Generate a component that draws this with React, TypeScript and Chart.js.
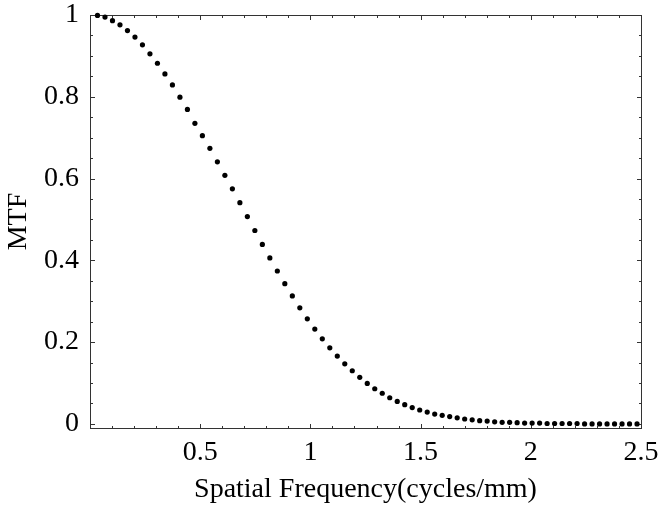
import React, { useEffect, useRef } from "react";
import { Chart, registerables } from "chart.js";

Chart.register(...registerables);

const frequencies = [
  0.034, 0.068, 0.102, 0.136, 0.17, 0.204, 0.238, 0.272, 0.306, 0.34,
  0.374, 0.408, 0.442, 0.476, 0.51, 0.544, 0.578, 0.612, 0.646, 0.68,
  0.714, 0.748, 0.782, 0.816, 0.85, 0.884, 0.918, 0.952, 0.986, 1.02,
  1.054, 1.088, 1.122, 1.156, 1.19, 1.224, 1.258, 1.292, 1.326, 1.36,
  1.394, 1.428, 1.462, 1.496, 1.53, 1.564, 1.598, 1.632, 1.666, 1.7,
  1.734, 1.768, 1.802, 1.836, 1.87, 1.904, 1.938, 1.972, 2.006, 2.04,
  2.074, 2.108, 2.142, 2.176, 2.21, 2.244, 2.278, 2.312, 2.346, 2.38,
  2.414, 2.448, 2.482,
];

const mtfValues = [
  0.999, 0.995, 0.986, 0.976, 0.962, 0.946, 0.927, 0.905, 0.882, 0.856,
  0.829, 0.799, 0.769, 0.735, 0.705, 0.674, 0.641, 0.608, 0.575, 0.541,
  0.507, 0.473, 0.439, 0.406, 0.374, 0.343, 0.313, 0.284, 0.257, 0.232,
  0.208, 0.186, 0.166, 0.147, 0.13, 0.114, 0.099, 0.086, 0.075, 0.064,
  0.055, 0.047, 0.04, 0.034, 0.029, 0.024, 0.021, 0.018, 0.015, 0.012,
  0.01, 0.008, 0.007, 0.005, 0.004, 0.004, 0.003, 0.002, 0.002, 0.002,
  0.001, 0.001, 0.001, 0.001, 0.001, 0.0, 0.0, 0.0, 0.0, 0.0,
  0.0, 0.0, 0.0,
];

const xMajorTicks = [0.5, 1, 1.5, 2, 2.5];
const xMinorTicks = [
  0.1, 0.2, 0.3, 0.4, 0.6, 0.7, 0.8, 0.9, 1.1, 1.2, 1.3, 1.4, 1.6, 1.7, 1.8,
  1.9, 2.1, 2.2, 2.3, 2.4,
];
const yMajorTicks = [0, 0.2, 0.4, 0.6, 0.8, 1];
const yMinorTicks = [
  0.05, 0.1, 0.15, 0.25, 0.3, 0.35, 0.45, 0.5, 0.55, 0.65, 0.7, 0.75, 0.85,
  0.9, 0.95,
];

const xTitle = "Spatial Frequency(cycles/mm)";
const yTitle = "MTF";

const FONT_FAMILY = '"Liberation Serif", "Times New Roman", serif';
const FRAME_COLOR = "#333";

const framePlugin = {
  id: "mathFrame",
  beforeDatasetsDraw(chart: any) {
    const { ctx, chartArea: a, scales } = chart;
    const xs = scales.x;
    const ys = scales.y;
    const L = Math.round(a.left) + 0.5;
    const R = Math.round(a.right) + 0.5;
    const T = Math.round(a.top) + 0.5;
    const B = Math.round(a.bottom) + 0.5;
    ctx.save();
    ctx.strokeStyle = FRAME_COLOR;
    ctx.lineWidth = 1;
    ctx.strokeRect(L, T, R - L, B - T);
    ctx.beginPath();
    const tickX = (v: number, len: number) => {
      const px = Math.round(xs.getPixelForValue(v)) + 0.5;
      ctx.moveTo(px, B);
      ctx.lineTo(px, B - len);
      ctx.moveTo(px, T);
      ctx.lineTo(px, T + len);
    };
    const tickY = (v: number, len: number) => {
      const py = Math.round(ys.getPixelForValue(v)) + 0.5;
      ctx.moveTo(L, py);
      ctx.lineTo(L + len, py);
      ctx.moveTo(R, py);
      ctx.lineTo(R - len, py);
    };
    xMajorTicks.forEach((v) => tickX(v, 4.5));
    xMinorTicks.forEach((v) => tickX(v, 2.5));
    yMajorTicks.forEach((v) => tickY(v, 4.5));
    yMinorTicks.forEach((v) => tickY(v, 2.5));
    ctx.stroke();
    ctx.restore();
  },
};

export default function App() {
  const canvasRef = useRef<HTMLCanvasElement | null>(null);

  useEffect(() => {
    document.body.style.margin = "0";
    const canvas = canvasRef.current;
    if (!canvas) return;
    const font = { family: FONT_FAMILY, size: 28 };
    const chart = new Chart(canvas, {
      type: "scatter",
      data: {
        datasets: [
          {
            data: frequencies.map((f, i) => ({ x: f, y: mtfValues[i] })),
            backgroundColor: "#000",
            borderColor: "#000",
            borderWidth: 0,
            pointRadius: 2.6,
            pointHoverRadius: 2.6,
            showLine: false,
            clip: false as any,
          },
        ],
      },
      options: {
        responsive: false,
        animation: false,
        devicePixelRatio: 1,
        layout: { padding: { left: 0, top: 15, right: 21, bottom: 0 } },
        plugins: {
          legend: { display: false },
          tooltip: { enabled: false },
        },
        scales: {
          x: {
            type: "linear",
            min: 0,
            max: 2.5,
            grid: { display: false, drawTicks: false },
            border: { display: false },
            afterBuildTicks: (scale: any) => {
              scale.ticks = xMajorTicks.map((v) => ({ value: v }));
            },
            afterFit: (scale: any) => {
              scale.height = 85;
              scale.paddingLeft = 0;
              scale.paddingRight = 0;
            },
            ticks: {
              color: "#000",
              font,
              padding: 8,
              maxRotation: 0,
              autoSkip: false,
              callback: (v: any) => String(v),
            },
            title: {
              display: true,
              text: xTitle,
              color: "#000",
              font,
              padding: { top: 0, bottom: 7 },
            },
          },
          y: {
            type: "linear",
            min: -0.01,
            max: 1,
            grid: { display: false, drawTicks: false },
            border: { display: false },
            afterBuildTicks: (scale: any) => {
              scale.ticks = yMajorTicks.map((v) => ({ value: v }));
            },
            afterFit: (scale: any) => {
              scale.width = 90;
              scale.paddingTop = 0;
              scale.paddingBottom = 0;
            },
            ticks: {
              color: "#000",
              font,
              padding: 11,
              autoSkip: false,
              callback: (v: any) => String(v),
            },
            title: {
              display: true,
              text: yTitle,
              color: "#000",
              font,
              padding: { top: 2, bottom: 0 },
            },
          },
        },
      },
      plugins: [framePlugin],
    });
    return () => chart.destroy();
  }, []);

  return (
    <div style={{ width: 662, height: 513, background: "#fff" }}>
      <canvas
        ref={canvasRef}
        width={662}
        height={513}
        style={{ display: "block", width: 662, height: 513 }}
      />
    </div>
  );
}
